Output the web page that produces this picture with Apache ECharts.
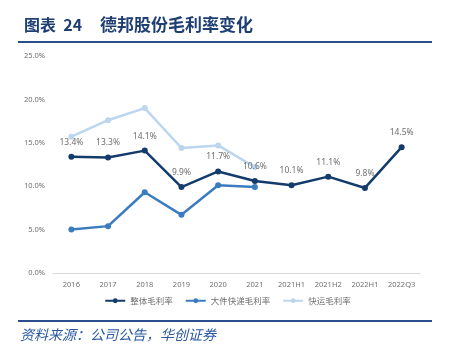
<!DOCTYPE html>
<html>
<head>
<meta charset="utf-8">
<style>
  html, body { margin: 0; padding: 0; background: #fff; }
  #chart { width: 455px; height: 354px; }
</style>
<script src="https://cdn.jsdelivr.net/npm/echarts@6/dist/echarts.min.js"></script>
</head>
<body>
<div id="chart"></div>
<script>
// 数据
var categories = ['2016', '2017', '2018', '2019', '2020', '2021', '2021H1', '2021H2', '2022H1', '2022Q3'];
var overall = [13.4, 13.3, 14.1, 9.9, 11.7, 10.6, 10.1, 11.1, 9.8, 14.5];
var bigParcel = [5.0, 5.4, 9.3, 6.7, 10.1, 9.9, null, null, null, null];
var express = [15.7, 17.6, 19.0, 14.4, 14.7, 12.2, null, null, null, null];
var seriesNames = ['整体毛利率', '大件快递毛利率', '快运毛利率'];

var myChart = echarts.init(document.getElementById('chart'));

function lineSeries(name, data, color, showLabel, z) {
    return {
        name: name,
        type: 'line',
        data: data,
        z: z,
        symbol: 'circle',
        symbolSize: 6,
        lineStyle: { color: color, width: 2.5 },
        itemStyle: { color: color },
        label: {
            show: showLabel,
            position: 'top',
            distance: 7,
            color: '#6f6f6f',
            fontSize: 8.5,
            fontFamily: 'Noto Sans',
            formatter: function (p) { return p.value.toFixed(1) + '%'; }
        }
    };
}

var option = {
    animation: false,
    title: {
        text: '{a|图表  24}{b|德邦股份毛利率变化}',
        left: 19,
        top: 11,
        textStyle: {
            rich: {
                a: { color: '#1f3f73', fontSize: 16, fontWeight: 'bold', fontFamily: 'Noto Sans CJK SC', width: 76 },
                b: { color: '#1f3f73', fontSize: 17, fontWeight: 'bold', fontFamily: 'Noto Sans CJK SC' }
            }
        }
    },
    graphic: [
        { type: 'rect', shape: { x: 18, y: 41, width: 414, height: 2 }, style: { fill: '#2b4f8c' } },
        { type: 'rect', shape: { x: 18, y: 320, width: 414, height: 2 }, style: { fill: '#2b4f8c' } },
        {
            type: 'text', left: 20, top: 328,
            style: {
                text: '资料来源：公司公告，华创证券',
                fill: '#2b5aa0',
                font: 'italic 14px "Noto Sans CJK SC"'
            }
        }
    ],
    legend: {
        data: seriesNames,
        bottom: 44,
        left: 'center',
        itemWidth: 20,
        itemHeight: 6,
        itemGap: 12,
        textStyle: { color: '#6f6f6f', fontSize: 8.5, fontFamily: 'Noto Sans CJK SC' }
    },
    grid: { left: 53, right: 35, top: 56, bottom: 81 },
    xAxis: {
        type: 'category',
        data: categories,
        boundaryGap: true,
        axisLine: { lineStyle: { color: '#d9d9d9', width: 1 } },
        axisTick: { show: false },
        axisLabel: { color: '#6f6f6f', fontSize: 7.5, fontFamily: 'Noto Sans', margin: 8 }
    },
    yAxis: {
        type: 'value',
        min: 0,
        max: 25,
        interval: 5,
        axisLine: { show: false },
        axisTick: { show: false },
        splitLine: { show: false },
        axisLabel: {
            color: '#6f6f6f', fontSize: 7.5, fontFamily: 'Noto Sans', margin: 8,
            formatter: function (v) { return v.toFixed(1) + '%'; }
        }
    },
    series: [
        lineSeries(seriesNames[0], overall, '#133b6b', true, 3),
        lineSeries(seriesNames[1], bigParcel, '#3b7cc0', false, 2),
        lineSeries(seriesNames[2], express, '#bcd6ef', false, 1)
    ]
};

myChart.setOption(option);
</script>
</body>
</html>
